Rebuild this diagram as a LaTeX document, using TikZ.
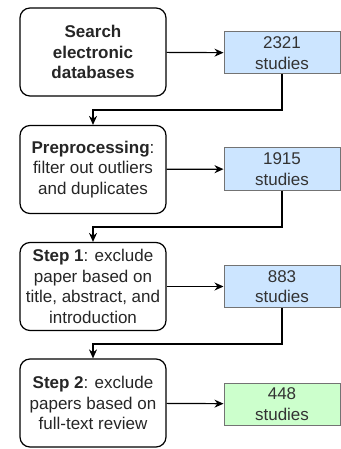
\documentclass[tikz,border=0pt]{standalone}
\usepackage{fontspec}
\setmainfont{Liberation Sans}
\usetikzlibrary{arrows.meta}
\definecolor{countblue}{HTML}{CCE5FF}
\definecolor{countgreen}{HTML}{CCFFCC}
\tikzset {
    style step/.style={
        draw=black,
        line width=1.2pt,
        fill=white,
        rectangle, % rounded box for each stage
        rounded corners=10pt,
        minimum width=146pt,
        minimum height=88pt,
        inner sep=0pt,
        text=black!85,
        align=center,
    },
    style count/.style={
        fill=countblue,
        draw=black!55,
        line width=1pt,
        rectangle, % box with the number of studies
        minimum width=116pt,
        minimum height=42pt,
        inner sep=0pt,
        text=black!80,
        align=center,
    },
    style final/.style={
        style count,
        fill=countgreen,
    },
}

\begin{document}
\begin{tikzpicture}
[x=1pt, y=-1pt, font=\fontsize{17}{20.5}\selectfont, line width=1.2pt,
>={Stealth[length=9pt, width=8pt]}]

\useasboundingbox (0,0) rectangle (340,449);

\node[style step] at (93, 52) (search) {\textbf{Search}\\ \textbf{electronic}\\ \textbf{databases}};
\node[style step] at (93, 169.5) (prep) {\textbf{Preprocessing}:\\ filter out outliers\\ and duplicates};
\node[style step] at (93, 286.5) (stepone) {\textbf{Step 1}: exclude\\ paper based on\\ title, abstract, and\\ introduction};
\node[style step] at (93, 403) (steptwo) {\textbf{Step 2}: exclude\\ papers based on\\ full-text review};

\node[style count] at (282, 53) (nsearch) {2321\\ studies};
\node[style count] at (282, 169) (nprep) {1915\\ studies};
\node[style count] at (282, 286.5) (nstepone) {883\\ studies};
\node[style final] at (282, 404) (nsteptwo) {448\\ studies};

\coordinate (turn1) at (93, 110);
\coordinate (turn2) at (93, 227);
\coordinate (turn3) at (93, 344);

\draw[->] (search) -- (nsearch);
\draw[->] (prep) -- (nprep);
\draw[->] (stepone) -- (nstepone);
\draw[->] (steptwo) -- (nsteptwo);

\draw[->] (nsearch) |- (turn1) -- (prep);
\draw[->] (nprep) |- (turn2) -- (stepone);
\draw[->] (nstepone) |- (turn3) -- (steptwo);
\end{tikzpicture}
\end{document}
